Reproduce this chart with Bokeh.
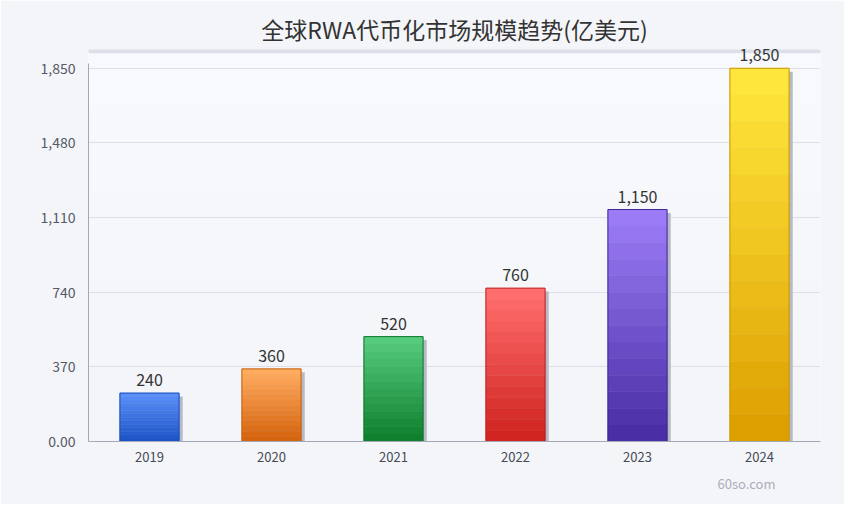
from bokeh.plotting import figure
from bokeh.models import (ColumnDataSource, FactorRange, Range1d, FixedTicker,
                          BoxAnnotation, Title)
from bokeh.transform import dodge
from bokeh.core.properties import value
from bokeh.embed import file_html
from bokeh.resources import INLINE

# data
years = ["2019", "2020", "2021", "2022", "2023", "2024"]
market = [240, 360, 520, 760, 1150, 1850]
y_ticks = [0, 370, 740, 1110, 1480, 1850]
y_tick_labels = ["0.00", "370", "740", "1,110", "1,480", "1,850"]
title_text = "全球RWA代币化市场规模趋势(亿美元)"
watermark = "60so.com"

# bar styling: top colour, bottom colour, outline
top_colors = ["#5b8ff8", "#ffab60", "#56ca7d", "#ff6e6e", "#9b7cf6", "#ffe63c"]
bottom_colors = ["#1d54c6", "#d5640e", "#10802e", "#d02420", "#4a2ea6", "#dea000"]
edge_colors = ["#1d4fb8", "#c4600f", "#13782f", "#bf2020", "#3e2a90", "#c99500"]

W, H = 844, 504
FONT = "Noto Sans CJK SC"


def hex2rgb(c):
    c = c.lstrip("#")
    return [int(c[i:i + 2], 16) for i in (0, 2, 4)]


def mix(c1, c2, t):
    a, b = hex2rgb(c1), hex2rgb(c2)
    return "#%02x%02x%02x" % tuple(int(round(a[k] + (b[k] - a[k]) * t)) for k in range(3))


p = figure(width=W, height=H,
           x_range=FactorRange(*years),
           y_range=Range1d(0, 1963),
           output_backend="svg", toolbar_location=None,
           min_border_left=88, min_border_right=24,
           min_border_top=45, min_border_bottom=63)
p.outline_line_color = None
p.border_fill_color = "#f4f5f9"
p.background_fill_alpha = 0


def band(y0, y1, color):
    # y0, y1 measured from the top of the canvas (clipped to the frame)
    p.add_layout(BoxAnnotation(left=0, right=W, top=y0, bottom=y1,
                               left_units="canvas", right_units="canvas",
                               top_units="canvas", bottom_units="canvas",
                               fill_color=color, fill_alpha=1, line_alpha=0,
                               level="image"))


# background: title strip, separator, soft vertical gradient
band(0, 49, "#f2f4f7")
band(49, 53, "#dcdfe7")
steps = 16
for i in range(steps):
    y0 = 53 + (H - 53) * i / steps
    y1 = 53 + (H - 53) * (i + 1) / steps
    band(y0, y1 + 0.5, mix("#f8f9fc", "#f2f4f8", i / (steps - 1)))

# shadows
shift = 17
shadow = ColumnDataSource(dict(x=years, top=[v - shift for v in market],
                               bottom=[-shift] * len(years)))
p.vbar(x=dodge("x", 0.03, range=p.x_range), top="top", bottom="bottom",
       width=0.485, source=shadow, fill_color="#b6bac6", line_color=None)

# gradient bars, stacked strips from the data value
n = 14
xs, bots, tops, cols = [], [], [], []
for yr, v, ct, cb in zip(years, market, top_colors, bottom_colors):
    for k in range(n):
        xs.append(yr)
        bots.append(v * k / n)
        tops.append(v * (k + 1) / n)
        cols.append(mix(cb, ct, k / (n - 1)))
strips = ColumnDataSource(dict(x=xs, bottom=bots, top=tops, color=cols))
p.vbar(x="x", top="top", bottom="bottom", width=0.485, source=strips,
       fill_color="color", line_color="color", line_width=0.5)

bars = ColumnDataSource(dict(x=years, top=market, edge=edge_colors,
                             label=["{:,}".format(v) for v in market]))
p.vbar(x="x", top="top", width=0.485, source=bars, fill_alpha=0,
       line_color="edge", line_width=1)
p.text(x="x", y="top", text="label", source=bars, y_offset=-7,
       text_align="center", text_baseline="bottom",
       text_font=value(FONT), text_font_size="16px", text_color="#333333")

# axes
p.yaxis.ticker = FixedTicker(ticks=y_ticks)
p.yaxis.major_label_overrides = dict(zip(y_ticks, y_tick_labels))
p.yaxis.bounds = (0, 1874)
for ax in (p.xaxis, p.yaxis):
    ax.axis_line_color = "#a3a8b6"
    ax.major_tick_line_color = None
    ax.minor_tick_line_color = None
    ax.major_tick_out = 0
    ax.major_tick_in = 0
    ax.major_label_text_font = FONT
p.yaxis.major_label_text_font_size = "14px"
p.yaxis.major_label_text_color = "#555a66"
p.yaxis.major_label_standoff = 13
p.xaxis.major_label_text_font_size = "13px"
p.xaxis.major_label_text_color = "#454a55"
p.xaxis.major_label_standoff = 10
p.xgrid.grid_line_color = None
p.ygrid.grid_line_color = "#dcdfe7"

p.title = Title(text=title_text, align="center", text_font=FONT,
                text_font_size="23px", text_font_style="normal",
                text_color="#333333", standoff=0)
p.add_layout(Title(text=watermark, align="right", offset=45, text_font=FONT,
                   text_font_size="13px", text_font_style="normal",
                   text_color="#a9aebb", standoff=14), "below")

open("out.html", "w").write(file_html(p, INLINE))
